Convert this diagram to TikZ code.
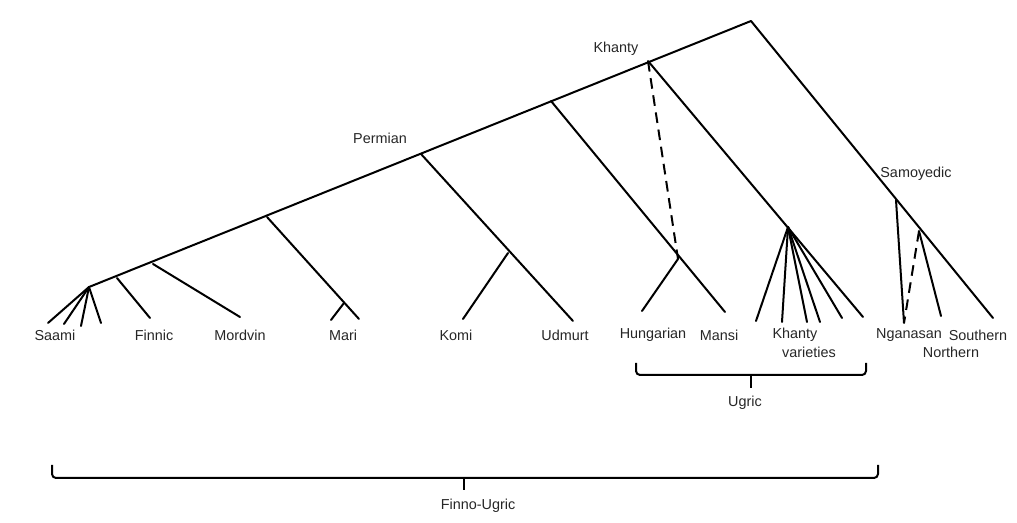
\documentclass[tikz,border=0pt]{standalone}
\usepackage{fontspec}
\setmainfont{Liberation Sans}
\begin{document}
\begin{tikzpicture}[x=0.75pt,y=-0.75pt,
  br/.style={line width=1.5pt, line cap=round, line join=round},
  dsh/.style={line width=1.5pt, dash pattern=on 8pt off 5pt},
  lab/.style={font=\fontsize{10.8}{12.5}\selectfont, inner sep=0pt, text=black!85},
  brace/.style={line width=1.5pt, rounded corners=3pt}]
\useasboundingbox (0,0) rectangle (1017,523);
% junctions
\coordinate (root) at (751,21);
\coordinate (khn) at (648,61);
\coordinate (ugn) at (551,101);
\coordinate (perm) at (421,154);
\coordinate (marn) at (267,217);
\coordinate (mordn) at (153,264);
\coordinate (finn) at (117,278);
\coordinate (saamn) at (89,287);
\coordinate (hm) at (678,259);
\coordinate (kv) at (788,227);
\coordinate (komn) at (508,253);
\coordinate (marsub) at (344,303);
\coordinate (samn) at (896,200);
\coordinate (sam2) at (919,231);
% leaves
\coordinate (s1) at (48,323);
\coordinate (s2) at (64,324);
\coordinate (s3) at (81,326);
\coordinate (s4) at (101,323);
\coordinate (fin) at (150,318);
\coordinate (mord) at (240,317);
\coordinate (mar1) at (331,320);
\coordinate (mar2) at (359,319);
\coordinate (kom) at (463,319);
\coordinate (udm) at (573,321);
\coordinate (hun) at (642,311);
\coordinate (man) at (725,312);
\coordinate (k1) at (756,321);
\coordinate (k2) at (782,322);
\coordinate (k3) at (807,322);
\coordinate (k4) at (820,322);
\coordinate (k5) at (842,318);
\coordinate (k6) at (863,317);
\coordinate (ngan) at (904,323);
\coordinate (north) at (941,316);
\coordinate (south) at (993,318);
% tree
\draw[br] (saamn) -- (root) -- (south);
\foreach \l in {s1,s2,s3,s4} \draw[br] (saamn) -- (\l);
\draw[br] (finn) -- (fin);
\draw[br] (mordn) -- (mord);
\draw[br] (marn) -- (mar2);
\draw[br] (marsub) -- (mar1);
\draw[br] (perm) -- (udm);
\draw[br] (komn) -- (kom);
\draw[br] (ugn) -- (man);
\draw[br] (hm) -- (hun);
\draw[dsh] (khn) -- (hm);
\draw[br] (khn) -- (k6);
\foreach \l in {k1,k2,k3,k4,k5} \draw[br] (kv) -- (\l);
\draw[br] (samn) -- (ngan);
\draw[br] (sam2) -- (north);
\draw[dsh] (sam2) -- (ngan);
% labels
\node[lab] (lkh) at (616,49) {Khanty};
\node[lab] (lpe) at (380,138) {Permian};
\node[lab] (lsa) at (916,174) {Samoyedic};
\node[lab] (ls) at (55,335) {Saami};
\node[lab] (lf) at (154,335) {Finnic};
\node[lab] (lmo) at (240,335) {Mordvin};
\node[lab] (lma) at (343,335) {Mari};
\node[lab] (lko) at (456,335) {Komi};
\node[lab] (lud) at (565,335) {Udmurt};
\node[lab] (lhu) at (653,335) {Hungarian};
\node[lab] (lmn) at (719,335) {Mansi};
\node[lab] (lkv1) at (795,335) {Khanty};
\node[lab] (lkv2) at (809,352) {varieties};
\node[lab] (lng) at (909,335) {Nganasan};
\node[lab] (lso) at (978,335) {Southern};
\node[lab] (lno) at (951,352) {Northern};
% brackets
\coordinate (ub1) at (636,363);
\coordinate (ub2) at (866,363);
\coordinate (ubm) at (751,375);
\draw[brace] (ub1) -- (636,375) -- (866,375) -- (ub2);
\draw[line width=1.5pt] (ubm) -- (751,388);
\node[lab] (lug) at (745,403) {Ugric};
\coordinate (fb1) at (52,465);
\coordinate (fb2) at (878,465);
\coordinate (fbm) at (464,478);
\draw[brace] (fb1) -- (52,478) -- (878,478) -- (fb2);
\draw[line width=1.5pt] (fbm) -- (464,490);
\node[lab] (lfu) at (478,506) {Finno-Ugric};
\end{tikzpicture}
\end{document}
